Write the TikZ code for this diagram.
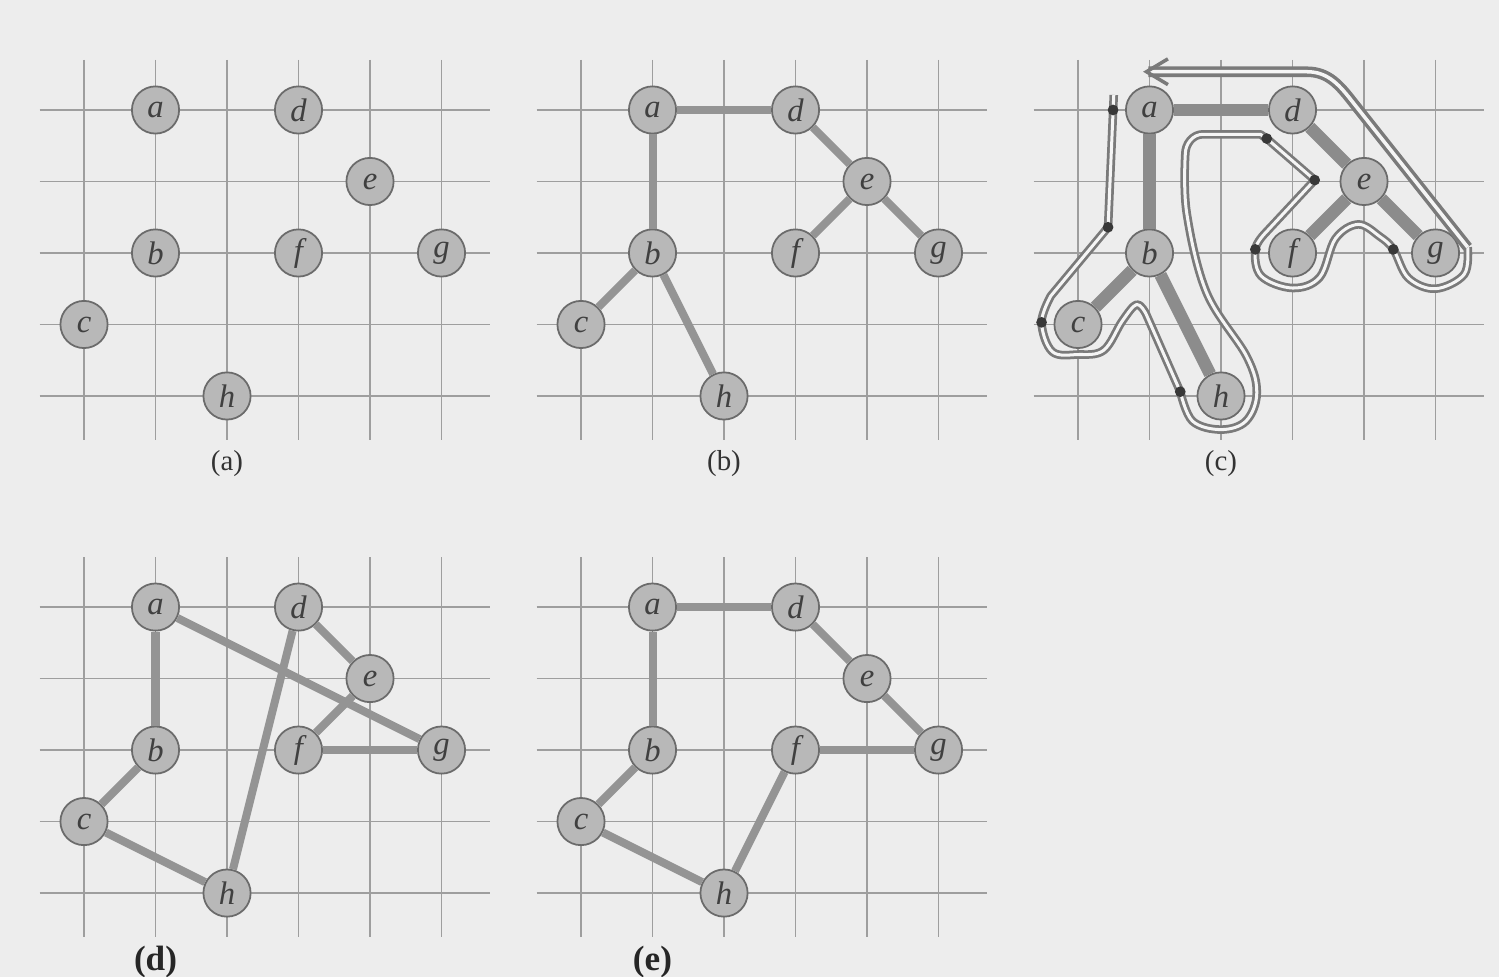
\documentclass[tikz,border=0pt]{standalone}
\usepackage{fontspec}
\setmainfont{Liberation Serif}
\usetikzlibrary{arrows.meta}

\newcommand{\tspsites}{%
  \foreach \gx in {0,...,5}
    \draw[gridline] (\gx,0.7) -- (\gx,-4.62);
  \foreach \gy in {0,...,4}
    \draw[gridline] (-0.62,-\gy) -- (5.68,-\gy);
  \node[site] (a) at (1,0) {a};
  \node[site] (d) at (3,0) {d};
  \node[site] (e) at (4,-1) {e};
  \node[site] (b) at (1,-2) {b};
  \node[site] (f) at (3,-2) {f};
  \node[site] (g) at (5,-2) {g};
  \node[site] (c) at (0,-3) {c};
  \node[site] (h) at (2,-4) {h};
}

\begin{document}
\begin{tikzpicture}[
    gridline/.style={draw=black!38, line width=0.5pt},
    site/.style={circle, draw=black!58, fill=black!28, line width=0.7pt, minimum size=0.66cm,
                 inner sep=0pt, text=black!75, font=\fontsize{13}{15}\selectfont\itshape},
    tedge/.style={draw=black!42, line width=3.2pt},
    fatedge/.style={draw=black!45, line width=5pt},
    walk/.style={draw=black!52, line width=1.1pt, double=gray!8, double distance=1.2pt,
                 line join=round},
    backwalk/.style={walk, line width=1.4pt, double distance=1.4pt},
    visit/.style={circle, fill=black!78, minimum size=0.15cm, inner sep=0pt},
    caption/.style={font=\fontsize{11.5}{13}\selectfont, text=black!80},
    bcaption/.style={font=\fontsize{14}{16}\selectfont\bfseries, text=black!85}
  ]
  \useasboundingbox (0,0) rectangle (20.965,-13.664);
  \fill[gray!14] (0,0) rectangle (20.965,-13.664);

  \begin{scope}[shift={(1.175,-1.538)}, name prefix=pa-]
    \tspsites
    \node[caption] (cap) at (2,-4.94) {(a)};
  \end{scope}

  \begin{scope}[shift={(8.126,-1.538)}, name prefix=pb-]
    \tspsites
    \draw[tedge] (a) -- (d);
    \draw[tedge] (a) -- (b);
    \draw[tedge] (d) -- (e);
    \draw[tedge] (e) -- (f);
    \draw[tedge] (e) -- (g);
    \draw[tedge] (b) -- (c);
    \draw[tedge] (b) -- (h);
    \node[caption] (cap) at (2,-4.94) {(b)};
  \end{scope}

  \begin{scope}[shift={(15.077,-1.538)}, name prefix=pc-]
    \tspsites
    \draw[fatedge] (a) -- (d);
    \draw[fatedge] (a) -- (b);
    \draw[fatedge] (d) -- (e);
    \draw[fatedge] (e) -- (f);
    \draw[fatedge] (e) -- (g);
    \draw[fatedge] (b) -- (c);
    \draw[fatedge] (b) -- (h);
    \draw[walk] (0.5,0.21) -- (0.42,-1.64) -- (-0.38,-2.6)
      -- plot[smooth, tension=0.6] coordinates {(-0.38,-2.6) (-0.51,-2.97) (-0.36,-3.38) (0,-3.42)
           (0.36,-3.36) (0.62,-2.95) (0.82,-2.72) (0.95,-2.85)}
      -- (1.43,-3.94)
      -- plot[smooth, tension=0.6] coordinates {(1.43,-3.94) (1.6,-4.35) (2.0,-4.47) (2.35,-4.35)
           (2.5,-3.96) (2.36,-3.45) (1.8,-2.56) (1.52,-1.44) (1.5,-0.62)}
      to[out=90, in=180] (1.75,-0.34) -- (2.55,-0.34) -- (2.64,-0.40) -- (3.31,-0.98) -- (2.62,-1.72)
      -- plot[smooth, tension=0.6] coordinates {(2.62,-1.72) (2.48,-1.95) (2.56,-2.32) (3.0,-2.49)
           (3.38,-2.34) (3.6,-1.8) (3.92,-1.6) (4.22,-1.77) (4.41,-1.95) (4.62,-2.35) (5.0,-2.5)
           (5.4,-2.3) (5.45,-1.92)};
    \draw[backwalk, -{Straight Barb[length=3mm, width=3.6mm]}] (5.45,-1.92)
      -- (3.85,0.1) to[out=128, in=0] (3.2,0.535) -- (0.91,0.535);
    \node[visit] (va) at (0.49,0) {};
    \node[visit] (vb) at (0.42,-1.64) {};
    \node[visit] (vc) at (-0.51,-2.97) {};
    \node[visit] (vh) at (1.43,-3.94) {};
    \node[visit] (vd) at (2.64,-0.40) {};
    \node[visit] (ve) at (3.31,-0.98) {};
    \node[visit] (vf) at (2.48,-1.95) {};
    \node[visit] (vg) at (4.41,-1.95) {};
    \node[caption] (cap) at (2,-4.94) {(c)};
  \end{scope}

  \begin{scope}[shift={(1.175,-8.49)}, name prefix=pd-]
    \tspsites
    \draw[tedge] (a) -- (b);
    \draw[tedge] (b) -- (c);
    \draw[tedge] (c) -- (h);
    \draw[tedge] (h) -- (d);
    \draw[tedge] (d) -- (e);
    \draw[tedge] (e) -- (f);
    \draw[tedge] (f) -- (g);
    \draw[tedge] (g) -- (a);
    \node[bcaption] (cap) at (1,-4.97) {(d)};
  \end{scope}

  \begin{scope}[shift={(8.126,-8.49)}, name prefix=pe-]
    \tspsites
    \draw[tedge] (a) -- (b);
    \draw[tedge] (b) -- (c);
    \draw[tedge] (c) -- (h);
    \draw[tedge] (h) -- (f);
    \draw[tedge] (f) -- (g);
    \draw[tedge] (g) -- (e);
    \draw[tedge] (e) -- (d);
    \draw[tedge] (d) -- (a);
    \node[bcaption] (cap) at (1,-4.97) {(e)};
  \end{scope}
\end{tikzpicture}
\end{document}
